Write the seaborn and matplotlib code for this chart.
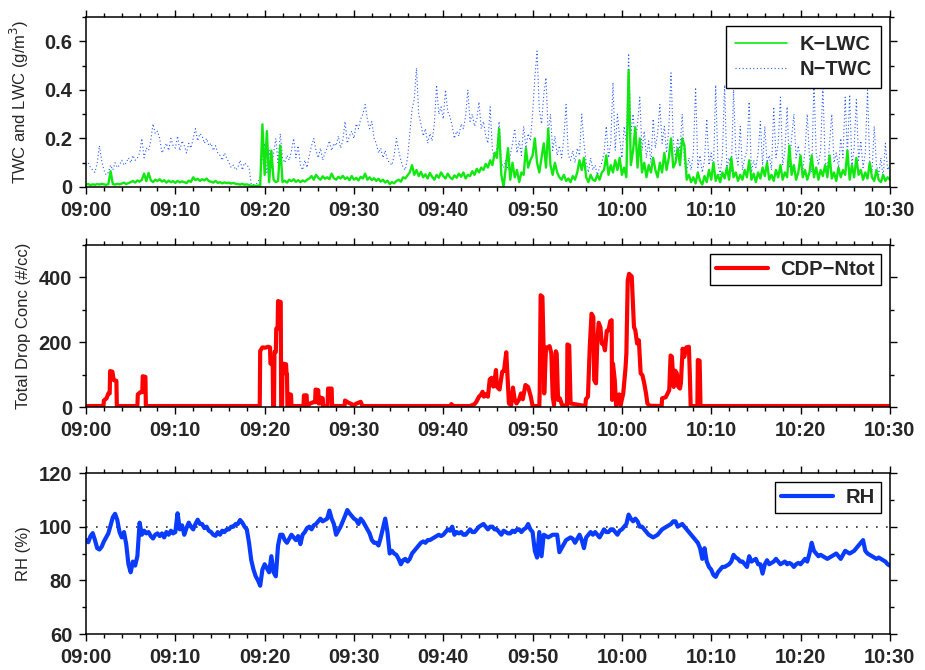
import matplotlib
matplotlib.use("Agg")
import numpy as np
import pandas as pd
import seaborn as sns
import matplotlib.pyplot as plt
from matplotlib.ticker import MultipleLocator, FuncFormatter

# ---------------------------------------------------------------------------
# Data: minutes after 09:00, 15-second samples for the continuous series
# ---------------------------------------------------------------------------
step_min = 0.25

n_twc = [  # N-TWC, g/m^3
    0.09,0.10,0.08,0.07, 0.06,0.10,0.17,0.11, 0.07,0.05,0.06,0.09, 0.07,0.10,0.08,0.09, 0.11,0.09,0.10,0.12,
    0.10,0.13,0.11,0.12, 0.14,0.20,0.12,0.16, 0.15,0.19,0.26,0.22, 0.23,0.20,0.14,0.16, 0.18,0.15,0.20,0.17,
    0.16,0.21,0.15,0.19, 0.17,0.14,0.18,0.16, 0.20,0.24,0.19,0.22, 0.21,0.18,0.20,0.17, 0.18,0.15,0.17,0.14,
    0.13,0.11,0.14,0.12, 0.10,0.08,0.09,0.07, 0.08,0.11,0.07,0.10, 0.09,0.08,0.01,0.01, 0.01,0.02,0.04,0.12,
    0.18,0.06,0.15,0.08, 0.14,0.20,0.10,0.22, 0.12,0.10,0.13,0.11, 0.15,0.20,0.12,0.17, 0.09,0.07,0.11,0.08,
    0.13,0.17,0.20,0.15, 0.12,0.16,0.11,0.14, 0.16,0.19,0.15,0.18, 0.17,0.21,0.16,0.19, 0.27,0.18,0.21,0.23,
    0.20,0.26,0.24,0.28, 0.30,0.34,0.28,0.24, 0.27,0.20,0.18,0.14, 0.16,0.12,0.15,0.11, 0.10,0.09,0.13,0.20,
    0.15,0.11,0.08,0.07, 0.12,0.22,0.32,0.36, 0.49,0.30,0.26,0.21, 0.24,0.18,0.22,0.19, 0.26,0.42,0.30,0.33,
    0.28,0.40,0.31,0.29, 0.25,0.20,0.23,0.21, 0.26,0.24,0.29,0.40, 0.27,0.30,0.25,0.28, 0.35,0.24,0.27,0.21,
    0.18,0.33,0.15,0.12, 0.16,0.27,0.10,0.08, 0.11,0.07,0.13,0.18, 0.24,0.14,0.19,0.13, 0.25,0.16,0.22,0.19,
    0.30,0.45,0.56,0.32, 0.26,0.38,0.45,0.22, 0.30,0.15,0.21,0.13, 0.17,0.12,0.20,0.34, 0.13,0.11,0.15,0.10,
    0.16,0.13,0.30,0.18, 0.10,0.06,0.12,0.07, 0.09,0.05,0.08,0.10, 0.14,0.25,0.12,0.18, 0.43,0.15,0.30,0.20,
    0.12,0.25,0.18,0.55, 0.22,0.30,0.17,0.26, 0.37,0.15,0.23,0.12, 0.19,0.10,0.28,0.16, 0.22,0.34,0.18,0.25,
    0.14,0.24,0.47,0.19, 0.12,0.20,0.15,0.30, 0.10,0.06,0.12,0.07, 0.14,0.41,0.08,0.13, 0.06,0.11,0.28,0.09,
    0.14,0.07,0.42,0.10, 0.05,0.13,0.42,0.08, 0.12,0.06,0.40,0.14, 0.09,0.25,0.07,0.12, 0.15,0.35,0.06,0.11,
    0.08,0.14,0.27,0.09, 0.25,0.10,0.13,0.07, 0.33,0.12,0.18,0.37, 0.09,0.15,0.33,0.08, 0.20,0.30,0.12,0.17,
    0.10,0.07,0.15,0.30, 0.12,0.06,0.43,0.14, 0.09,0.15,0.42,0.11, 0.07,0.18,0.30,0.10, 0.14,0.08,0.20,0.12,
    0.37,0.13,0.38,0.09, 0.16,0.36,0.11,0.19, 0.08,0.14,0.40,0.10, 0.06,0.25,0.09,0.05, 0.12,0.04,0.18,0.07,
    0.09,
]

k_lwc = [  # K-LWC, g/m^3
    0.010,0.012,0.008,0.011, 0.009,0.012,0.010,0.013, 0.011,0.009,0.012,0.065, 0.012,0.010,0.013,0.011, 0.014,0.018,0.012,0.016,
    0.020,0.025,0.018,0.027, 0.022,0.030,0.055,0.024, 0.058,0.028,0.020,0.030, 0.025,0.032,0.022,0.028, 0.018,0.026,0.020,0.024,
    0.017,0.025,0.019,0.023, 0.020,0.016,0.026,0.021, 0.040,0.028,0.034,0.025, 0.032,0.027,0.035,0.024, 0.022,0.018,0.025,0.017,
    0.020,0.015,0.019,0.016, 0.018,0.014,0.017,0.013, 0.012,0.010,0.013,0.009, 0.011,0.008,0.005,0.006, 0.004,0.006,0.005,0.258,
    0.050,0.230,0.020,0.150, 0.030,0.020,0.025,0.170, 0.020,0.026,0.018,0.030, 0.024,0.032,0.021,0.028, 0.020,0.027,0.022,0.030,
    0.035,0.045,0.030,0.050, 0.038,0.030,0.044,0.034, 0.040,0.032,0.055,0.036, 0.030,0.042,0.035,0.046, 0.033,0.040,0.028,0.045,
    0.030,0.038,0.027,0.042, 0.035,0.055,0.030,0.040, 0.028,0.036,0.025,0.034, 0.022,0.030,0.018,0.026, 0.012,0.020,0.015,0.025,
    0.030,0.022,0.040,0.035, 0.048,0.060,0.090,0.050, 0.070,0.045,0.062,0.040, 0.052,0.035,0.058,0.042, 0.030,0.050,0.038,0.060,
    0.045,0.035,0.055,0.040, 0.032,0.048,0.038,0.055, 0.042,0.060,0.035,0.050, 0.045,0.065,0.050,0.075, 0.060,0.080,0.070,0.095,
    0.080,0.110,0.090,0.140, 0.120,0.240,0.050,0.000, 0.080,0.160,0.030,0.100, 0.040,0.070,0.020,0.060, 0.050,0.160,0.080,0.110,
    0.130,0.200,0.100,0.060, 0.120,0.180,0.080,0.240, 0.090,0.050,0.100,0.060, 0.040,0.030,0.050,0.025, 0.035,0.020,0.045,0.030,
    0.060,0.110,0.070,0.120, 0.040,0.020,0.050,0.030, 0.025,0.050,0.030,0.060, 0.070,0.130,0.050,0.090, 0.060,0.110,0.070,0.120,
    0.050,0.080,0.040,0.480, 0.090,0.150,0.246,0.080, 0.200,0.060,0.100,0.040, 0.090,0.060,0.120,0.070, 0.040,0.100,0.060,0.140,
    0.070,0.120,0.200,0.080, 0.100,0.160,0.090,0.200, 0.170,0.030,0.050,0.020, 0.040,0.015,0.060,0.025, 0.010,0.045,0.020,0.070,
    0.030,0.100,0.025,0.050, 0.020,0.060,0.035,0.080, 0.030,0.120,0.040,0.060, 0.025,0.050,0.030,0.070, 0.040,0.110,0.030,0.055,
    0.020,0.060,0.035,0.080, 0.045,0.100,0.030,0.050, 0.025,0.070,0.040,0.090, 0.030,0.060,0.040,0.170, 0.050,0.090,0.030,0.060,
    0.130,0.040,0.070,0.030, 0.060,0.130,0.040,0.080, 0.030,0.070,0.045,0.090, 0.040,0.130,0.035,0.060, 0.025,0.080,0.040,0.070,
    0.050,0.150,0.030,0.090, 0.040,0.120,0.050,0.070, 0.030,0.060,0.035,0.100, 0.040,0.025,0.070,0.030, 0.020,0.050,0.025,0.040,
    0.030,
]

rh = [  # relative humidity, %
    95.0,94.2,96.5,97.6, 95.0,92.0,91.5,92.5, 94.5,96.0,97.5,100.5, 103.5,104.8,102.5,98.0, 96.0,98.0,93.5,86.0,
    83.0,87.0,85.5,89.0, 101.5,97.0,98.5,97.5, 98.0,96.5,95.6,97.0, 97.5,96.5,97.5,96.0, 98.0,97.0,98.5,97.5,
    98.0,105.0,99.0,100.5, 97.0,99.5,101.5,100.0, 99.0,101.0,102.6,101.0, 101.0,99.5,100.0,98.5, 98.0,97.0,96.6,98.0,
    97.0,98.5,98.0,99.0, 99.0,100.0,100.0,101.0, 101.0,102.5,101.5,100.0, 99.0,94.0,87.5,84.0, 81.5,80.0,78.0,84.0,
    86.0,84.5,83.0,89.0, 83.0,81.5,93.0,97.0, 97.0,95.0,94.0,95.5, 97.0,96.0,95.0,96.5, 93.5,97.0,98.0,99.5,
    100.0,99.0,100.5,101.0, 102.0,103.0,102.0,102.5, 103.0,106.0,103.0,101.0, 97.0,98.5,100.0,102.0, 104.0,106.2,105.0,104.0,
    103.0,102.5,101.0,103.0, 102.0,100.5,99.0,97.5, 95.0,94.0,94.0,93.0, 96.0,99.5,103.0,98.0, 90.0,91.0,90.0,89.5,
    88.0,86.0,87.5,88.0, 87.0,88.0,90.0,91.0, 92.0,93.0,94.0,94.5, 94.0,95.0,95.0,95.5, 96.0,96.5,97.0,96.5,
    97.0,98.0,99.0,98.5, 100.0,97.0,98.0,97.5, 98.0,97.0,97.0,98.0, 99.0,98.0,98.0,99.0, 100.0,100.5,101.0,100.0,
    99.0,100.0,100.0,99.0, 99.0,98.0,97.0,98.5, 98.0,97.5,97.5,98.5, 98.0,99.0,99.0,98.0, 99.0,99.5,101.0,99.0,
    98.0,91.0,88.5,98.0, 89.0,97.0,96.5,96.0, 96.5,97.0,97.0,97.0, 90.5,92.0,93.5,95.0, 95.5,96.0,95.5,94.0,
    95.5,97.0,95.0,92.0, 96.0,97.0,98.0,97.0, 98.0,97.0,96.0,97.5, 99.0,98.0,98.0,99.0, 99.0,98.0,97.0,98.5,
    99.0,100.0,101.0,104.5, 103.0,102.0,103.0,102.0, 100.0,100.0,99.0,98.0, 97.0,96.5,96.0,96.5, 97.0,98.0,99.0,99.5,
    100.0,100.5,101.0,102.0, 102.0,100.0,100.5,101.0, 100.0,99.0,98.0,97.0, 96.0,95.0,94.0,92.0, 88.0,92.0,87.0,85.0,
    84.0,82.0,81.3,83.0, 84.0,85.0,85.0,85.5, 86.0,87.0,89.5,88.5, 88.0,87.0,87.0,86.0, 85.0,89.0,87.0,87.5,
    88.0,86.0,86.0,82.5, 86.0,87.5,86.0,86.5, 87.0,88.0,87.0,86.0, 86.5,87.0,86.0,86.5, 86.0,85.0,86.0,86.5,
    86.0,87.0,88.0,87.0, 90.0,94.0,91.0,90.0, 89.0,89.5,89.0,88.5, 88.0,88.5,89.0,89.5, 90.0,89.0,88.0,89.5,
    91.0,90.5,90.0,90.5, 91.0,92.0,93.0,94.0, 95.0,91.0,90.0,89.5, 89.0,88.5,88.0,88.5, 88.0,87.5,87.0,86.0,
    85.5,
]

# CDP total drop concentration (#/cc): (minute after 09:00, value) samples
cdp_samples = [
    (0.0, 3), (1.95, 3), (2.0, 20), (2.3, 27), (2.5, 42), (2.65, 42), (2.7, 111), (2.95, 109),
    (3.1, 83), (3.4, 81), (3.45, 3),
    (5.75, 3), (5.8, 39), (6.1, 46), (6.3, 46), (6.35, 95), (6.65, 93), (6.7, 3),
    (19.45, 3), (19.5, 173), (19.75, 184), (20.05, 183), (20.4, 186), (20.6, 184), (20.65, 134),
    (20.9, 132), (20.95, 3), (21.05, 3), (21.1, 170), (21.25, 170), (21.3, 242), (21.45, 242),
    (21.5, 327), (21.8, 324), (21.85, 3), (21.95, 3), (22.0, 134), (22.4, 132), (22.45, 101),
    (22.5, 101), (22.55, 3), (22.7, 3), (22.75, 40), (22.95, 38), (23.0, 3),
    (24.35, 3), (24.4, 36), (24.7, 36), (24.75, 3), (25.1, 11), (25.45, 15), (25.65, 15),
    (25.7, 54), (26.0, 52), (26.05, 11), (26.2, 11), (26.25, 29), (26.5, 27), (26.55, 3),
    (27.05, 3), (27.1, 57), (27.5, 57), (27.55, 3),
    (28.95, 3), (29.0, 20), (29.4, 13), (29.75, 9), (29.85, 3), (30.3, 11), (30.75, 16), (30.95, 3),
    (40.85, 3), (40.9, 9), (41.15, 3),
    (43.0, 3), (43.5, 9), (43.7, 16), (44.0, 32), (44.2, 37), (44.4, 47), (44.55, 32), (44.8, 40),
    (45.0, 32), (45.2, 85), (45.4, 90), (45.6, 63), (45.7, 73), (45.9, 114), (46.0, 63),
    (46.3, 54), (46.6, 109), (46.8, 112), (47.05, 169), (47.2, 93), (47.35, 11), (47.6, 6),
    (47.8, 60), (48.0, 22), (48.2, 11), (48.5, 24), (48.7, 42), (48.9, 24), (49.2, 68),
    (49.5, 62), (49.8, 32), (50.0, 3),
    (50.75, 3), (50.8, 52), (50.9, 345), (51.1, 340), (51.25, 160), (51.3, 42), (51.5, 183),
    (51.75, 185), (51.9, 188), (52.1, 165), (52.25, 32), (52.4, 6), (52.6, 172), (52.7, 165),
    (52.85, 22), (53.05, 27), (53.3, 6),
    (53.85, 3), (53.9, 193), (54.1, 190), (54.25, 11),
    (55.9, 3), (55.97, 24), (56.2, 32), (56.4, 185), (56.6, 288), (56.8, 278), (56.9, 83),
    (57.1, 73), (57.25, 206), (57.4, 260), (57.6, 245), (57.75, 196), (57.95, 194), (58.1, 175),
    (58.3, 235), (58.5, 237), (58.7, 265), (58.85, 268), (58.9, 22), (59.0, 134), (59.2, 83),
    (59.35, 5), (59.7, 39), (59.85, 5), (60.15, 42), (60.4, 119), (60.5, 165), (60.65, 390),
    (60.8, 411), (61.1, 403), (61.35, 247), (61.5, 237), (61.7, 196), (61.9, 206), (62.1, 104),
    (62.3, 98), (62.5, 73), (62.7, 42), (62.85, 11), (63.1, 4),
    (64.45, 3), (64.5, 27), (64.9, 30), (65.3, 52), (65.45, 159), (65.6, 155), (65.8, 62),
    (65.97, 112), (66.15, 104), (66.3, 63), (66.5, 57), (66.6, 73), (66.8, 180), (66.98, 155),
    (67.2, 184), (67.5, 186), (67.6, 104), (67.7, 3),
    (68.45, 3), (68.5, 145), (68.7, 143), (68.8, 3), (90.0, 3),
]

rh_reference = 100.0
x_tick_labels = ["09:00", "09:10", "09:20", "09:30", "09:40", "09:50", "10:00", "10:10", "10:20", "10:30"]

# ---------------------------------------------------------------------------
minutes = np.arange(len(rh)) * step_min
wc = pd.DataFrame({"minute": minutes, "K-LWC": k_lwc, "N-TWC": n_twc})
rhdf = pd.DataFrame({"minute": minutes, "RH": rh})
cdp = pd.DataFrame(cdp_samples, columns=["minute", "CDP-Ntot"])

sns.set_theme(style="ticks")
plt.rcParams["font.family"] = ["Liberation Sans", "DejaVu Sans"]
plt.rcParams["axes.edgecolor"] = "black"
plt.rcParams["axes.linewidth"] = 1.1

fig = plt.figure(figsize=(9.25, 6.7), dpi=100)
ax1 = fig.add_axes([0.093, 0.7209, 0.869, 0.2537])
ax2 = fig.add_axes([0.093, 0.3925, 0.869, 0.2418])
ax3 = fig.add_axes([0.093, 0.0537, 0.869, 0.2403])

GREEN = "#10e810"
BLUE_DOT = "#2a5cff"
RED = "#ff0000"
BLUE = "#0a3cff"

legend_kw = dict(loc="upper right", prop={"weight": "bold", "size": 14.5}, frameon=True,
                 fancybox=False, edgecolor="black", framealpha=1, handlelength=2.6,
                 borderaxespad=0.45, handletextpad=0.6)

# panel 1: water content
sns.lineplot(data=wc, x="minute", y="N-TWC", ax=ax1, color=BLUE_DOT, lw=0.8,
             linestyle=(0, (1, 2.2)), estimator=None)
sns.lineplot(data=wc, x="minute", y="K-LWC", ax=ax1, color=GREEN, lw=1.7, estimator=None)
ax1.set_ylim(0, 0.7)
ax1.yaxis.set_major_locator(MultipleLocator(0.2))
ax1.yaxis.set_minor_locator(MultipleLocator(0.1))
ax1.yaxis.set_major_formatter(FuncFormatter(lambda v, p: "0" if abs(v) < 1e-9 else f"{v:.1f}"))
ax1.set_ylabel("TWC and LWC (g/m$^3$)", fontsize=12)
twc_line, lwc_line = ax1.lines[0], ax1.lines[1]
leg1 = ax1.legend([lwc_line, twc_line], ["K\u2212LWC", "N\u2212TWC"], labelspacing=0.3,
                  borderpad=0.45, **legend_kw)
leg1.get_lines()[0].set_linewidth(1.2)

# panel 2: drop concentration
sns.lineplot(data=cdp, x="minute", y="CDP-Ntot", ax=ax2, color=RED, lw=3.0,
             estimator=None, sort=False)
ax2.set_ylim(0, 500)
ax2.yaxis.set_major_locator(MultipleLocator(200))
ax2.yaxis.set_minor_locator(MultipleLocator(100))
ax2.set_ylabel("Total Drop Conc (#/cc)", fontsize=12)
ax2.legend([ax2.lines[0]], ["CDP\u2212Ntot"], borderpad=0.3, **legend_kw)

# panel 3: relative humidity
ax3.axhline(rh_reference, color="#333333", lw=1.2, linestyle=(0, (1, 5)))
sns.lineplot(data=rhdf, x="minute", y="RH", ax=ax3, color=BLUE, lw=3.0, estimator=None)
ax3.set_ylim(60, 120)
ax3.yaxis.set_major_locator(MultipleLocator(20))
ax3.yaxis.set_minor_locator(MultipleLocator(10))
ax3.set_ylabel("RH (%)", fontsize=12)
ax3.legend([ax3.lines[1]], ["RH"], borderpad=0.3, **legend_kw)

for ax in (ax1, ax2, ax3):
    ax.set_xlim(0, 90)
    ax.set_xticks(np.arange(0, 91, 10))
    ax.set_xticklabels(x_tick_labels)
    ax.xaxis.set_minor_locator(MultipleLocator(2))
    ax.set_xlabel("")
    ax.tick_params(which="both", direction="out", top=True, right=True,
                   width=1.0, color="black")
    ax.tick_params(which="major", length=5, labelsize=14.5, pad=5)
    ax.tick_params(which="minor", length=3)
    for lab in ax.get_xticklabels() + ax.get_yticklabels():
        lab.set_fontweight("bold")
    ax.yaxis.set_label_coords(-0.068, 0.5)
    for s in ax.spines.values():
        s.set_color("black")
        s.set_linewidth(1.1)

fig.savefig("out.png", dpi=100)
